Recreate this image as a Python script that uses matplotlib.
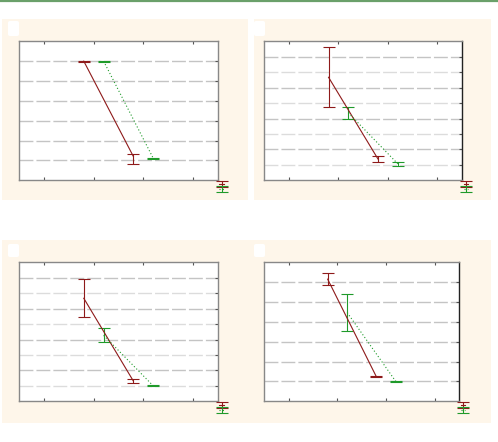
import matplotlib
matplotlib.use("Agg")
import matplotlib.pyplot as plt
from matplotlib.patches import Rectangle, FancyBboxPatch
from matplotlib.lines import Line2D

W, H = 498, 442

# ---- data ----
categories = [2, 3]
x_ticks = [1, 2, 3, 4]
ylims = [7, 9, 9, 7]
red_means = [[6.0, 1.2], [6.67, 1.38], [6.67, 1.31], [6.15, 1.23]]
red_err_lo = [[0.02, 0.36], [1.93, 0.17], [1.22, 0.14], [0.30, 0.03]]
red_err_hi = [[0.02, 0.11], [1.93, 0.17], [1.22, 0.14], [0.30, 0.03]]
green_means = [[6.0, 1.11], [4.37, 1.07], [4.27, 1.0], [4.47, 0.99]]
green_err = [[0.02, 0.02], [0.40, 0.13], [0.45, 0.03], [0.93, 0.03]]

RED = "#8e1a1a"
GREEN = "#1f9a2a"
CREAM = "#fef6ea"

fig = plt.figure(figsize=(W / 100, H / 100), dpi=100)
fig.patch.set_facecolor("white")

def px(x0, y0, x1, y1):
    return [x0 / W, 1 - y1 / H, (x1 - x0) / W, (y1 - y0) / H]

# top green rule
fig.add_artist(Line2D([0, 1], [1 - 0.8 / H, 1 - 0.8 / H], color="#6aa06a", lw=1.6,
                      transform=fig.transFigure))

creams = [(2, 19, 248, 200), (254, 19, 491, 200), (2, 240, 248, 423), (248, 240, 491, 423)]
labels_box = [(8, 21, 19, 36), (254, 21, 265, 36), (8, 244, 19, 257), (254, 244, 265, 257)]
axes_px = [(19.3, 41.3, 217.7, 180.3), (264.3, 41.3, 462, 180.3),
           (19.3, 262.3, 217.7, 401.3), (264.3, 262.3, 459.3, 401.3)]

for (x0, y0, x1, y1) in creams:
    b = px(x0, y0, x1, y1)
    fig.add_artist(Rectangle((b[0], b[1]), b[2], b[3], transform=fig.transFigure,
                             facecolor=CREAM, edgecolor="none", zorder=0))
for (x0, y0, x1, y1) in labels_box:
    b = px(x0, y0, x1, y1)
    fig.add_artist(FancyBboxPatch((b[0], b[1]), b[2], b[3], transform=fig.transFigure,
                                  boxstyle="round,pad=0,rounding_size=0.004",
                                  facecolor="white", edgecolor="none", zorder=1))

off = 0.2
for i, apx in enumerate(axes_px):
    ax = fig.add_axes(px(*apx))
    ax.set_facecolor("white")
    ax.set_xlim(0.5, 4.5)
    ax.set_ylim(0, ylims[i])
    ax.set_xticks(x_ticks)
    ax.set_yticks(range(1, ylims[i]))
    ax.tick_params(axis="x", which="both", direction="in", length=2, top=True, bottom=True,
                   labelbottom=False, color="#555555", width=0.8)
    ax.tick_params(axis="y", which="both", direction="in", length=2, left=False, right=True,
                   labelleft=False, color="#555555", width=0.8)
    for yv in range(1, ylims[i]):
        c = "#c4c4c4" if (yv % 2 == 0 or ylims[i] == 7) else "#dcdcdc"
        ax.axhline(yv, color=c, lw=1.0, dashes=(10, 2.2), zorder=1)
    for s in ["left", "top", "bottom"]:
        ax.spines[s].set_color("#888888")
        ax.spines[s].set_linewidth(1.0)
    ax.spines["right"].set_color("#222222" if i in (1, 3) else "#888888")
    ax.spines["right"].set_linewidth(1.0)

    xr = [c - off for c in categories]
    xg = [c + off for c in categories]
    hr = ax.errorbar(xr, red_means[i], yerr=[red_err_lo[i], red_err_hi[i]], color=RED,
                     lw=0.8, elinewidth=0.8, capsize=4, capthick=0.8, zorder=3)
    hg = ax.errorbar(xg, green_means[i], yerr=green_err[i], color=GREEN, ls=(0, (1, 2)),
                     lw=0.8, elinewidth=0.8, capsize=4, capthick=0.8, zorder=3)
    ax.legend([hr, hg], ["", ""], loc="upper left", bbox_to_anchor=(1.0, 0.0),
              frameon=False, handlelength=0.8, handletextpad=0.0, borderpad=0.1,
              labelspacing=0.0, borderaxespad=0.2, fontsize=4)

fig.savefig("out.png", dpi=100, facecolor="white")
